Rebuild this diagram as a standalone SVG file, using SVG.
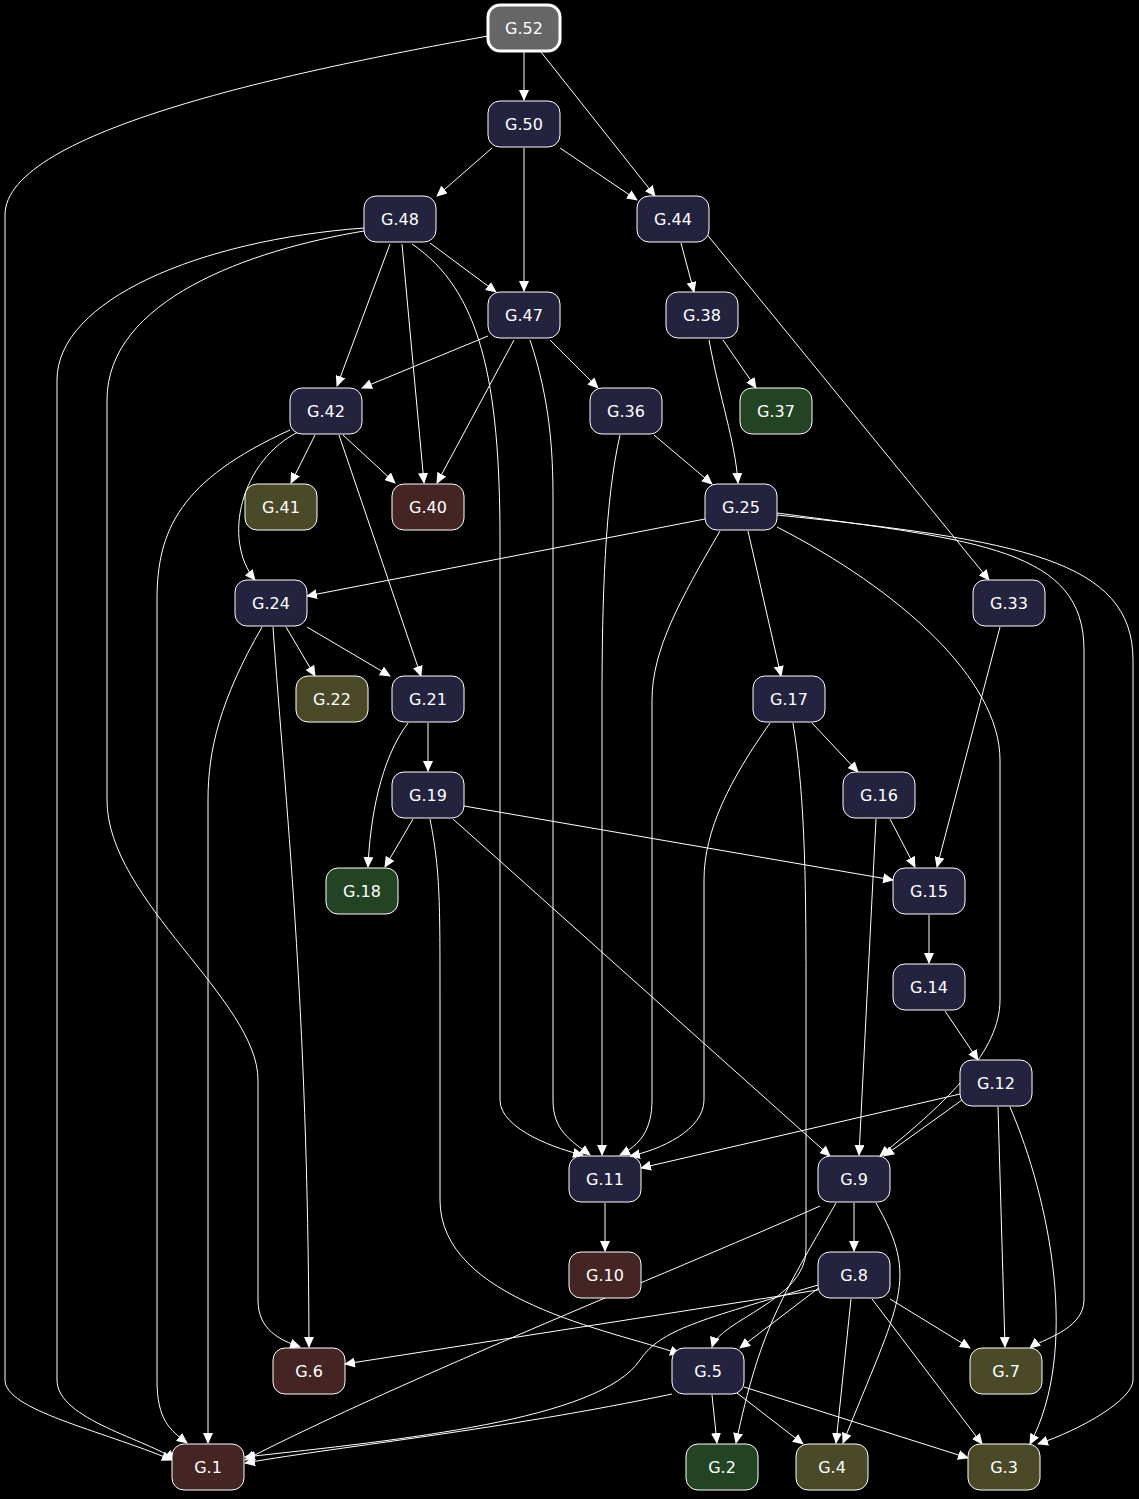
<svg xmlns="http://www.w3.org/2000/svg" width="1139" height="1499" viewBox="0 0 1139 1499">
<style>
.n rect{stroke:#fff;stroke-width:1}
.n text{font-family:"DejaVu Sans",sans-serif;font-size:16px;fill:#fff;text-anchor:middle;dominant-baseline:central}
.b rect{fill:#23233f}.r rect{fill:#452424}.g rect{fill:#234423}.o rect{fill:#4a4a28}
#e path{fill:none;stroke:#fff;stroke-width:1;marker-end:url(#a)}
</style>
<defs><marker id="a" markerWidth="11" markerHeight="10" refX="10" refY="5" orient="auto" markerUnits="userSpaceOnUse"><path d="M0,0L11,5L0,10z" fill="#fff"/></marker></defs>
<rect width="1139" height="1499" fill="#000"/>
<g id="e">
<path d="M488,36C300,70 5,130 5,215L5,1380C5,1410 100,1430 172,1460"/>
<path d="M524,52L524,100"/>
<path d="M541,52L655,196"/>
<path d="M492,148L437,196"/>
<path d="M524,148L524,291"/>
<path d="M560,148L637,200"/>
<path d="M430,243L496,292"/>
<path d="M390,244L337,386"/>
<path d="M402,244L424,483"/>
<path d="M412,244C480,290 500,380 500,540L500,1100C500,1130 560,1150 583,1155"/>
<path d="M364,228C200,240 57,300 57,380L57,1380C57,1420 150,1440 175,1460"/>
<path d="M364,231C250,250 107,300 107,400L107,800C107,900 258,1000 258,1080L258,1300C258,1330 280,1340 300,1347"/>
<path d="M488,336L362,388"/>
<path d="M514,340L437,483"/>
<path d="M550,340L598,388"/>
<path d="M530,340C550,400 553,450 553,500L553,1100C553,1130 570,1140 590,1155"/>
<path d="M681,243L694,292"/>
<path d="M705,232L989,580"/>
<path d="M723,340L756,388"/>
<path d="M709,340C720,400 735,440 738,483"/>
<path d="M315,435L291,483"/>
<path d="M343,435L395,483"/>
<path d="M300,431C240,460 222,540 255,580"/>
<path d="M339,435L421,676"/>
<path d="M290,430C180,480 157,530 157,600L157,1380C157,1420 170,1430 187,1443"/>
<path d="M654,435L712,484"/>
<path d="M620,435C605,500 602,600 602,700L602,1155"/>
<path d="M705,519L307,596"/>
<path d="M720,531C680,600 652,650 652,700L652,1100C652,1130 640,1145 620,1155"/>
<path d="M748,531L781,676"/>
<path d="M777,527C900,590 1000,680 1000,760L1000,1000C1000,1050 950,1100 880,1156"/>
<path d="M777,513C980,540 1084,550 1084,650L1084,1300C1084,1330 1040,1340 1030,1348"/>
<path d="M777,515C1020,540 1133,560 1133,660L1133,1380C1133,1400 1080,1430 1038,1444"/>
<path d="M1000,627L937,867"/>
<path d="M286,627L315,676"/>
<path d="M307,627L390,676"/>
<path d="M273,627C285,800 308,1000 309,1347"/>
<path d="M262,627C220,700 208,750 208,800L208,1443"/>
<path d="M428,723L428,771"/>
<path d="M408,723C380,760 370,820 368,867"/>
<path d="M770,723C730,780 704,830 704,880L704,1100C704,1130 660,1150 630,1156"/>
<path d="M812,723L858,772"/>
<path d="M793,723C806,800 806,900 806,1000L806,1250C806,1300 720,1320 712,1347"/>
<path d="M413,819L385,867"/>
<path d="M464,806L893,880"/>
<path d="M453,819L830,1156"/>
<path d="M430,819C440,870 440,900 440,1000L440,1200C440,1300 610,1330 680,1354"/>
<path d="M890,819L915,867"/>
<path d="M876,819L859,1155"/>
<path d="M929,915L929,963"/>
<path d="M945,1011L978,1060"/>
<path d="M960,1094L641,1168"/>
<path d="M962,1100L884,1156"/>
<path d="M998,1107L1005,1347"/>
<path d="M1010,1107C1050,1200 1080,1350 1030,1444"/>
<path d="M605,1203L605,1251"/>
<path d="M854,1203L854,1251"/>
<path d="M820,1206C700,1260 400,1380 245,1460"/>
<path d="M836,1203C780,1300 760,1330 736,1443"/>
<path d="M876,1203C920,1280 900,1300 843,1443"/>
<path d="M818,1290L345,1364"/>
<path d="M820,1287L740,1348"/>
<path d="M890,1299L970,1348"/>
<path d="M851,1299L836,1443"/>
<path d="M872,1299L982,1444"/>
<path d="M818,1285C700,1320 660,1330 640,1360C600,1420 400,1440 245,1457"/>
<path d="M672,1394C500,1430 350,1445 245,1463"/>
<path d="M712,1395L717,1443"/>
<path d="M737,1393L803,1444"/>
<path d="M744,1387L968,1458"/>
</g>
<g id="G52" class="n"><rect x="488" y="5" width="72" height="46" rx="12" fill="#666" style="stroke-width:3"/><text x="524" y="28">G.52</text></g>
<g id="G50" class="n b"><rect x="488" y="101" width="72" height="46" rx="12"/><text x="524" y="124">G.50</text></g>
<g id="G48" class="n b"><rect x="364" y="196" width="72" height="46" rx="12"/><text x="400" y="219">G.48</text></g>
<g id="G44" class="n b"><rect x="637" y="196" width="72" height="46" rx="12"/><text x="673" y="219">G.44</text></g>
<g id="G47" class="n b"><rect x="488" y="292" width="72" height="46" rx="12"/><text x="524" y="315">G.47</text></g>
<g id="G38" class="n b"><rect x="666" y="292" width="72" height="46" rx="12"/><text x="702" y="315">G.38</text></g>
<g id="G42" class="n b"><rect x="290" y="388" width="72" height="46" rx="12"/><text x="326" y="411">G.42</text></g>
<g id="G36" class="n b"><rect x="590" y="388" width="72" height="46" rx="12"/><text x="626" y="411">G.36</text></g>
<g id="G37" class="n g"><rect x="740" y="388" width="72" height="46" rx="12"/><text x="776" y="411">G.37</text></g>
<g id="G41" class="n o"><rect x="245" y="484" width="72" height="46" rx="12"/><text x="281" y="507">G.41</text></g>
<g id="G40" class="n r"><rect x="392" y="484" width="72" height="46" rx="12"/><text x="428" y="507">G.40</text></g>
<g id="G25" class="n b"><rect x="705" y="484" width="72" height="46" rx="12"/><text x="741" y="507">G.25</text></g>
<g id="G24" class="n b"><rect x="235" y="580" width="72" height="46" rx="12"/><text x="271" y="603">G.24</text></g>
<g id="G33" class="n b"><rect x="973" y="580" width="72" height="46" rx="12"/><text x="1009" y="603">G.33</text></g>
<g id="G22" class="n o"><rect x="296" y="676" width="72" height="46" rx="12"/><text x="332" y="699">G.22</text></g>
<g id="G21" class="n b"><rect x="392" y="676" width="72" height="46" rx="12"/><text x="428" y="699">G.21</text></g>
<g id="G17" class="n b"><rect x="753" y="676" width="72" height="46" rx="12"/><text x="789" y="699">G.17</text></g>
<g id="G19" class="n b"><rect x="392" y="772" width="72" height="46" rx="12"/><text x="428" y="795">G.19</text></g>
<g id="G16" class="n b"><rect x="843" y="772" width="72" height="46" rx="12"/><text x="879" y="795">G.16</text></g>
<g id="G18" class="n g"><rect x="326" y="868" width="72" height="46" rx="12"/><text x="362" y="891">G.18</text></g>
<g id="G15" class="n b"><rect x="893" y="868" width="72" height="46" rx="12"/><text x="929" y="891">G.15</text></g>
<g id="G14" class="n b"><rect x="893" y="964" width="72" height="46" rx="12"/><text x="929" y="987">G.14</text></g>
<g id="G12" class="n b"><rect x="960" y="1060" width="72" height="46" rx="12"/><text x="996" y="1083">G.12</text></g>
<g id="G11" class="n b"><rect x="569" y="1156" width="72" height="46" rx="12"/><text x="605" y="1179">G.11</text></g>
<g id="G9" class="n b"><rect x="818" y="1156" width="72" height="46" rx="12"/><text x="854" y="1179">G.9</text></g>
<g id="G10" class="n r"><rect x="569" y="1252" width="72" height="46" rx="12"/><text x="605" y="1275">G.10</text></g>
<g id="G8" class="n b"><rect x="818" y="1252" width="72" height="46" rx="12"/><text x="854" y="1275">G.8</text></g>
<g id="G6" class="n r"><rect x="273" y="1348" width="72" height="46" rx="12"/><text x="309" y="1371">G.6</text></g>
<g id="G5" class="n b"><rect x="672" y="1348" width="72" height="46" rx="12"/><text x="708" y="1371">G.5</text></g>
<g id="G7" class="n o"><rect x="970" y="1348" width="72" height="46" rx="12"/><text x="1006" y="1371">G.7</text></g>
<g id="G1" class="n r"><rect x="172" y="1444" width="72" height="46" rx="12"/><text x="208" y="1467">G.1</text></g>
<g id="G2" class="n g"><rect x="686" y="1444" width="72" height="46" rx="12"/><text x="722" y="1467">G.2</text></g>
<g id="G4" class="n o"><rect x="796" y="1444" width="72" height="46" rx="12"/><text x="832" y="1467">G.4</text></g>
<g id="G3" class="n o"><rect x="968" y="1444" width="72" height="46" rx="12"/><text x="1004" y="1467">G.3</text></g>
</svg>
